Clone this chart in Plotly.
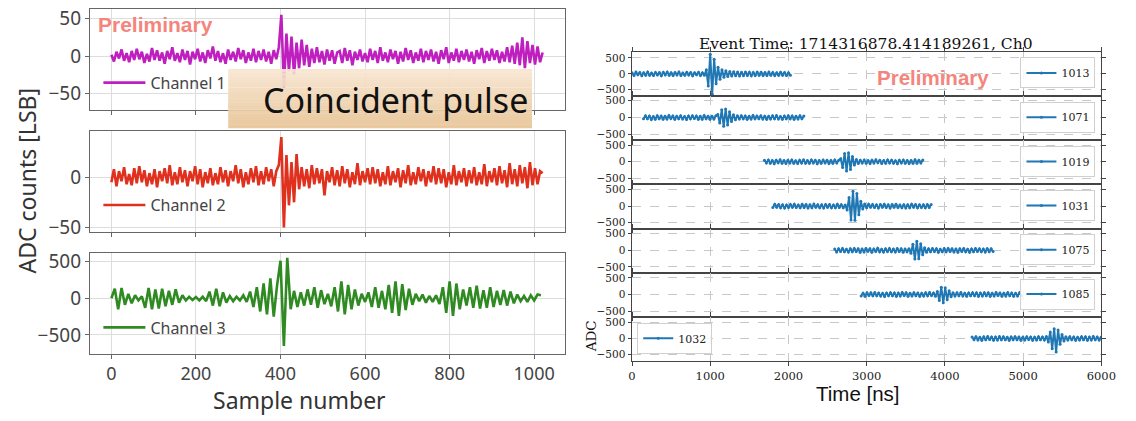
import plotly.graph_objects as go

# ---------------- data ----------------
# Left panel: ADC waveforms (sample number), channel 1 & 2 read every 6 samples, channel 3 every 8 samples
ch_names = ["Channel 1", "Channel 2", "Channel 3"]
ch_colors = ["#bf1fbf", "#e0301e", "#2f8a22"]
ch12_step = 6
ch3_step = 8

ch1 = [2, -7, 6, -3, 9, -6, 4, -8, 7, -5,
       10, -4, 6, -9, 3, -7, 11, -5, 8, -6,
       5, -10, 7, -4, 12, -6, 4, -8, 9, -5,
       7, -11, 6, -4, 10, -7, 5, -9, 8, -3,
       13, -6, 7, -8, 4, -10, 9, -5, 6, -7,
       11, -4, 8, -9, 5, -6, 10, -8, 7, -5,
       9, -7, 6, -10, 8, -4, 12, 55, -42, 30,
       -20, 26, -25, 18, -16, 22, -12, 15, -14, 10,
       -9, 12, -8, 7, -11, 9, -6, 8, -10, 5,
       7, -9, 11, -6, 8, -12, 6, -5, 9, -7,
       4, -8, 10, -5, 7, -9, 12, -6, 5, -8,
       9, -4, 7, -10, 6, -7, 11, -5, 8, -9,
       5, -6, 10, -8, 7, -5, 9, -7, 6, -10,
       8, -4, 12, -9, 5, -6, 10, -8, 7, -5,
       9, -7, 6, -10, 8, -4, 11, -9, 7, -6,
       10, -5, 8, -9, 6, -7, 12, -8, 14, -10,
       18, -12, 25, -16, 20, -9, 15, -11, 13, -8,
       5]

ch2 = [-5, 8, -9, 6, -4, 10, -7, 3, -8, 9,
       -6, 11, -5, 7, -9, 4, -7, 8, -10, 6,
       -4, 9, -6, 12, -8, 5, -7, 10, -5, 7,
       -9, 6, -4, 11, -7, 8, -10, 5, -6, 9,
       -8, 4, -7, 10, -5, 7, -9, 6, -4, 12,
       -6, 8, -10, 5, -7, 9, -5, 11, -8, 6,
       -7, 10, -4, 8, -9, 6, 12, 40, -50, 22,
       -28, 15, -25, 23, -12, 10, -9, 8, -11, 12,
       -7, 9, -6, 8, -18, 6, -5, 10, -8, 7,
       -9, 11, -6, 8, -10, 5, -7, 14, -8, 6,
       -5, 9, -7, 10, -6, 8, -9, 5, -7, 11,
       -8, 6, -5, 9, -10, 7, -6, 12, -8, 5,
       -7, 10, -4, 8, -9, 6, -5, 11, -7, 9,
       -6, 8, -10, 5, -7, 12, -8, 6, -5, 9,
       -9, 7, -6, 10, -8, 5, -7, 13, -9, 6,
       -5, 9, -8, 11, -6, 7, -10, 14, -7, 8,
       -9, 12, -6, 10, -11, 15, -8, 9, -7, 6,
       4]

ch3 = [0, 130, -150, 140, -90, 60, -70, 40, -30, 25,
       -130, 140, -150, 120, -140, 130, -110, 100, -90, 120,
       -60, 40, -30, 20, -25, 15, -30, 20, -40, 90,
       -100, 130, -110, 80, -60, 30, -40, 20, -30, 40,
       -50, 90, -120, 150, -180, 200, -220, 270, -250, 180,
       510, -650, 550, -150, 100, -120, 80, -100, 120, -90,
       150, -130, 110, -80, 60, -110, 150, -180, 230, -220,
       180, -150, 120, -100, 60, -50, 80, -120, 150, -130,
       100, -150, 180, -200, 230, -240, 190, -160, 130, -90,
       60, -40, 50, -60, 30, -50, 40, -80, 150, -200,
       230, -240, 200, -150, 120, -100, 150, -130, 170, -140,
       110, -130, 150, -120, 100, -90, 110, -100, 90, -70,
       50, -40, 30, -50, 40, -30, 50, 40]

left_xticks = [0, 200, 400, 600, 800, 1000]
left_yticks = [[-50, 0, 50], [-50, 0], [-500, 0, 500]]
left_yranges = [[-71, 63], [-54.2, 46], [-755, 619]]

# Right panel: 7 waveforms (ns), sampled every 25 ns from their start time
dt_ns = 25
r_labels = ["1013", "1071", "1019", "1031", "1075", "1085", "1032"]
r_starts = [0, 147, 1693, 1800, 2591, 2929, 4347]
r1013 = [35, -48, 55, -30, 42, -58, 38, -40, 62, -45, 28, -52, 47, -35, 40, -60, 50, -32, 57, -42,
         35, -55, 44, -38, 60, -48, 30, -46, 52, -37, 42, -62, 38, -31, 49, -53, 34, -45, 130, -380,
         620, -640, 460, -310, 210, -170, 130, -110, 95, -85, 75, -70, 68, -62, 58, -66, 52, -60, 55, -48,
         50, -58, 45, -52, 60, -44, 48, -55, 40, -50, 56, -42, 46, -53, 38, -47, 52, -40, 44, -50,
         36, -42]
r1071 = [-40, 52, -35, 45, -58, 30, -48, 55, -38, 42, -50, 36, -45, 60, -32, 47, -55, 40, -37, 50,
         -44, 33, -57, 46, -39, 52, -30, 44, -53, 38, -48, 58, -35, 41, -50, 36, -46, 55, 90, -160,
         230, -260, 250, -220, 170, -120, 80, -65, 50, -42, 55, -38, 47, -52, 35, -45, 58, -40, 48, -33,
         52, -47, 40, -55, 36, -44, 50, -38, 57, -42, 33, -49, 45, -36, 53, -40, 46, -51, 38, -43,
         55, -37, 42]
r1019 = [45, -38, 52, -44, 36, -56, 48, -33, 58, -41, 39, -50, 46, -37, 55, -43, 31, -52, 47, -39,
         60, -45, 35, -48, 53, -36, 42, -57, 38, -46, 50, -34, 44, -53, 40, -47, 56, -35, 48, 90,
         -170, 250, -280, 270, -230, 160, -100, 65, -50, 44, -38, 52, -45, 36, -55, 48, -40, 58, -33, 46,
         -51, 39, -44, 55, -37, 49, -42, 34, -56, 47, -38, 52, -45, 40, -50, 36, -48, 57, -41, 43,
         -35, 50]
r1031 = [-42, 55, -36, 48, -52, 40, -58, 33, -45, 50, -38, 57, -44, 35, -49, 53, -40, 46, -55, 38,
         -47, 60, -34, 43, -51, 37, -56, 49, -39, 45, -53, 36, -48, 58, -41, 44, -50, 35, -120, 260,
         -420, 450, -430, 380, -260, 150, -90, 60, -48, 55, -37, 50, -44, 38, -56, 47, -35, 52, -43, 40,
         -58, 45, -38, 53, -46, 36, -50, 42, -55, 39, -47, 57, -33, 48, -52, 41, -45, 37, -54, 46,
         -40, 50]
r1075 = [38, -50, 45, -36, 57, -42, 33, -53, 48, -40, 55, -35, 44, -58, 39, -47, 52, -31, 46, -55,
         41, -38, 59, -45, 34, -52, 47, -39, 56, -43, 36, -49, 53, -37, 45, -60, 40, -44, 50, -90,
         180, -260, 270, -250, 200, -130, 75, -55, 46, -40, 53, -36, 48, -57, 35, -45, 51, -42, 58, -34,
         44, -50, 39, -55, 47, -38, 52, -46, 35, -57, 43, -40, 54, -33, 49, -45, 38, -52, 56, -41,
         45, -37]
r1085 = [-46, 39, -55, 48, -35, 52, -42, 57, -38, 45, -50, 34, -58, 44, -40, 53, -36, 47, -54, 41,
         -45, 58, -33, 49, -52, 37, -46, 55, -39, 43, -57, 36, -48, 51, -42, 59, -35, 46, -53, 90,
         -180, 220, -250, 200, -160, 110, -70, 55, -45, 50, -38, 56, -43, 35, -52, 46, -40, 54, -36, 48,
         -57, 41, -44, 53, -37, 49, -55, 38, -46, 57, -34, 45, -51, 40, -48, 56, -39, 43, -53, 36,
         -47, 52, -41]
r1032 = [44, -36, 53, -47, 38, -55, 49, -40, 57, -34, 46, -52, 41, -45, 58, -38, 50, -43, 35, -56,
         48, -41, 54, -37, 45, -59, 39, -48, 52, -33, 47, -54, 40, -46, 56, -38, 43, -50, 60, -110,
         200, -320, 300, -420, 260, -180, 120, -80, 55, -48, 52, -40, 46, -57, 38, -44, 55, -36, 49, -53,
         42, -47, 58, -39, 45, -51, 36, -55, 48, -42, 53, -35, 47, -50, 40, -56, 44, -38, 51, -45,
         39, -52]
r_values = [r1013, r1071, r1019, r1031, r1075, r1085, r1032]
r_xticks = [0, 1000, 2000, 3000, 4000, 5000, 6000]
r_yticks = [-500, 0, 500]
r_yranges = [[-690, 700], [-670, 645], [-675, 650], [-680, 660], [-675, 655], [-680, 655], [-700, 660]]

title_text = "Event Time: 1714316878.414189261, Ch0"

# ---------------- layout helpers ----------------
W, H = 1136, 421
def fx(p):
    return p / W
def fy(p):
    return 1 - p / H

fig = go.Figure()
layout = dict(width=W, height=H, margin=dict(l=0, r=0, t=0, b=0),
              paper_bgcolor="white", plot_bgcolor="white", showlegend=True)

SANS = "Noto Sans"
SERIF = "DejaVu Serif"

left_rows = [(5, 108.7), (130.7, 234.3), (256, 360)]
left_legend_y = [81, 207, 333]
for i in range(3):
    n = i + 1
    xa = "x" if n == 1 else f"x{n}"
    ya = "y" if n == 1 else f"y{n}"
    lg = "legend" if n == 1 else f"legend{n}"
    vals = [ch1, ch2, ch3][i]
    step = ch3_step if i == 2 else ch12_step
    fig.add_trace(go.Scatter(x=[k * step for k in range(len(vals))], y=vals,
                             mode="lines", name=ch_names[i],
                             line=dict(color=ch_colors[i], width=2.6),
                             xaxis=xa, yaxis=ya, legend=lg))
    top, bot = left_rows[i]
    layout["xaxis" if n == 1 else f"xaxis{n}"] = dict(
        domain=[fx(87.3), fx(571)], range=[-51, 1074], anchor=ya,
        tickvals=left_xticks, showticklabels=(i == 2),
        showline=True, mirror=True, linecolor="#666", linewidth=1,
        showgrid=True, gridcolor="#dddddd", zeroline=False,
        ticks="outside", ticklen=4, tickcolor="#666",
        tickfont=dict(family=SANS, size=18, color="#444"))
    layout["yaxis" if n == 1 else f"yaxis{n}"] = dict(
        domain=[fy(bot), fy(top)], range=left_yranges[i], anchor=xa,
        tickvals=left_yticks[i],
        showline=True, mirror=True, linecolor="#666", linewidth=1,
        showgrid=True, gridcolor="#dddddd", zeroline=False,
        ticks="outside", ticklen=4, tickcolor="#666",
        tickfont=dict(family=SANS, size=19, color="#444"))
    layout[lg] = dict(x=fx(96), y=fy(left_legend_y[i]), xanchor="left", yanchor="middle",
                      bgcolor="rgba(0,0,0,0)", borderwidth=0, itemwidth=42,
                      font=dict(family=SANS, size=16, color="#444"))

r_top, r_bot = 49, 367.7
rh = (r_bot - r_top) / 7
for j in range(7):
    n = j + 4
    xa, ya, lg = f"x{n}", f"y{n}", f"legend{n}"
    vals = r_values[j]
    fig.add_trace(go.Scatter(x=[r_starts[j] + k * dt_ns for k in range(len(vals))], y=vals,
                             mode="lines+markers", name=r_labels[j],
                             line=dict(color="#1f77b4", width=2),
                             marker=dict(color="#1f77b4", size=3),
                             xaxis=xa, yaxis=ya, legend=lg))
    top = r_top + rh * j
    bot = top + rh
    layout[f"xaxis{n}"] = dict(
        domain=[fx(638.7), fx(1116)], range=[0, 6000], anchor=ya,
        tickvals=r_xticks, showticklabels=(j == 6),
        showline=True, mirror="ticks", linecolor="#444", linewidth=1,
        showgrid=True, gridcolor="#c8c8c8", griddash="dash", zeroline=False,
        ticks="outside", ticklen=3.5, tickcolor="#444",
        tickfont=dict(family=SERIF, size=11.5, color="#222"))
    layout[f"yaxis{n}"] = dict(
        domain=[fy(bot), fy(top)], range=r_yranges[j], anchor=xa,
        tickvals=r_yticks,
        showline=True, mirror="ticks", linecolor="#444", linewidth=1,
        showgrid=True, gridcolor="#c8c8c8", griddash="dash", zeroline=False,
        ticks="outside", ticklen=3.5, tickcolor="#444",
        tickfont=dict(family=SERIF, size=10.5, color="#222"))
    if j < 6:
        lx, lxa = fx(1110), "right"
    else:
        lx, lxa = fx(644), "left"
    layout[lg] = dict(x=lx, y=fy(top + 6), xanchor=lxa, yanchor="top",
                      bgcolor="rgba(255,255,255,0.85)", bordercolor="#d0d0d0", borderwidth=1,
                      font=dict(family=SERIF, size=11, color="#222"))

# "Coincident pulse" box (vertical gradient built from thin strips)
shapes = []
nstrip = 16
b_top, b_bot = 67, 128
c0, c1 = (247, 229, 208), (232, 197, 152)
for s in range(nstrip):
    t = s / (nstrip - 1)
    col = tuple(round(c0[k] + (c1[k] - c0[k]) * t) for k in range(3))
    y0 = b_top + (b_bot - b_top) * s / nstrip
    y1 = b_top + (b_bot - b_top) * (s + 1) / nstrip
    shapes.append(dict(type="rect", xref="paper", yref="paper",
                       x0=fx(228), x1=fx(537), y0=fy(y1), y1=fy(y0) + 0.0005,
                       fillcolor=f"rgb{col}", opacity=0.93, line=dict(width=0), layer="above"))
layout["shapes"] = shapes

ann = []
ann.append(dict(text="Coincident pulse", x=fx(261), y=fy(99), xref="paper", yref="paper",
                xanchor="left", yanchor="middle", showarrow=False,
                font=dict(family=SANS, size=34, color="#111")))
ann.append(dict(text="<b>Preliminary</b>", x=fx(94), y=fy(21), xref="paper", yref="paper",
                xanchor="left", yanchor="middle", showarrow=False,
                font=dict(family="Liberation Sans", size=21, color="#f4857c")))
ann.append(dict(text="<b>Preliminary</b>", x=fx(886), y=fy(76), xref="paper", yref="paper",
                xanchor="left", yanchor="middle", showarrow=False,
                font=dict(family="Liberation Sans", size=20.5, color="#f4857c")))
ann.append(dict(text="ADC counts [LSB]", x=fx(23), y=fy(182), xref="paper", yref="paper",
                xanchor="center", yanchor="middle", showarrow=False, textangle=-90,
                font=dict(family=SANS, size=23, color="#333")))
ann.append(dict(text="Sample number", x=fx(301), y=fy(408), xref="paper", yref="paper",
                xanchor="center", yanchor="middle", showarrow=False,
                font=dict(family=SANS, size=23, color="#333")))
ann.append(dict(text=title_text, x=fx(877), y=fy(41), xref="paper", yref="paper",
                xanchor="center", yanchor="middle", showarrow=False,
                font=dict(family=SERIF, size=15.5, color="#111")))
ann.append(dict(text="Time [ns]", x=fx(869), y=fy(401), xref="paper", yref="paper",
                xanchor="center", yanchor="middle", showarrow=False,
                font=dict(family="Liberation Sans", size=20.5, color="#111")))
ann.append(dict(text="ADC", x=fx(597), y=fy(342), xref="paper", yref="paper",
                xanchor="center", yanchor="middle", showarrow=False, textangle=-90,
                font=dict(family=SERIF, size=13.5, color="#111")))
layout["annotations"] = ann

fig.update_layout(**layout)
fig.write_html("out.html", config={"displayModeBar": False},
               post_script=("document.documentElement.style.margin='0';"
                            "document.documentElement.style.overflow='hidden';"
                            "document.body.style.margin='0';"
                            "document.body.style.overflow='hidden';"))
